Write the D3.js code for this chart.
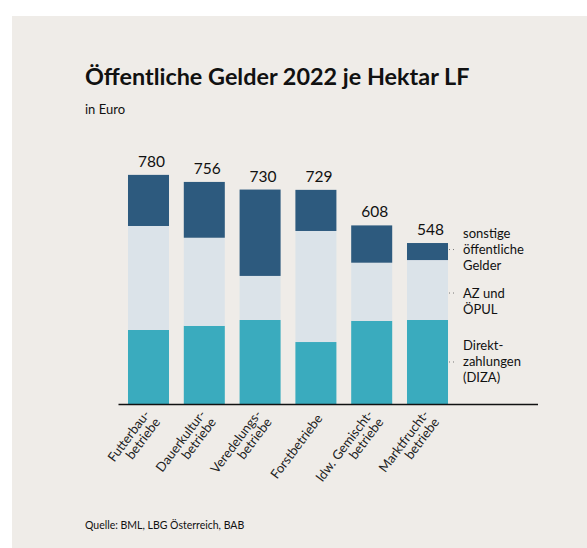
<!DOCTYPE html>
<html>
<head>
<meta charset="utf-8">
<script src="https://cdn.jsdelivr.net/npm/d3@7"></script>
<style>
  body { margin: 0; background: #ffffff; }
  svg { display: block; font-family: Lato, "Noto Sans", sans-serif; }
</style>
</head>
<body>
<div id="chart"></div>
<script>
// ----- ----- ----- ----- ----- ----- ----- ----- -----
// DATA
var categories = [
    ["Futterbau-", "betriebe"],
    ["Dauerkultur-", "betriebe"],
    ["Veredelungs-", "betriebe"],
    ["Forstbetriebe"],
    ["ldw. Gemischt-", "betriebe"],
    ["Marktfrucht-", "betriebe"]
];
var diza = [252, 266, 286, 211, 283, 286];
var azOepul = [354, 300, 150, 378, 198, 204];
var sonstige = [174, 190, 294, 140, 127, 58];
var totals = [780, 756, 730, 729, 608, 548];

var seriesNames = [
    ["Direkt-", "zahlungen", "(DIZA)"],
    ["AZ und", "ÖPUL"],
    ["sonstige", "öffentliche", "Gelder"]
];
var seriesColors = ["#3aabbe", "#dbe3e9", "#2d5a7e"];

// ----- ----- ----- ----- ----- ----- ----- ----- -----
// FIGURE
const size = { width: 587, height: 548 };
const baseline = 404;

var svg = d3.select("#chart")
    .append("svg")
    .attr("width", size.width)
    .attr("height", size.height);

// panel background
svg.append("rect")
    .attr("x", 12)
    .attr("y", 16)
    .attr("width", 575)
    .attr("height", size.height - 16)
    .attr("fill", "#efece8");

// titles
svg.append("text")
    .attr("x", 85)
    .attr("y", 85)
    .attr("font-size", 23.4)
    .attr("font-weight", "bold")
    .attr("fill", "#111")
    .text("Öffentliche Gelder 2022 je Hektar LF");

svg.append("text")
    .attr("x", 85)
    .attr("y", 114)
    .attr("font-size", 13)
    .attr("fill", "#111")
    .text("in Euro");

svg.append("text")
    .attr("x", 85)
    .attr("y", 529)
    .attr("font-size", 10.5)
    .attr("fill", "#111")
    .text("Quelle: BML, LBG Österreich, BAB");

// scales
var idx = d3.range(categories.length);
var x_scale = d3.scaleBand()
    .domain(idx)
    .range([120.6, 455.4])
    .paddingInner(0.265)
    .paddingOuter(0.1325);

var y_scale = d3.scaleLinear()
    .domain([0, 800])
    .range([baseline, 169]);

// stacked data
var rows = idx.map(function (i) {
    return { i: i, diza: diza[i], az: azOepul[i], sonst: sonstige[i] };
});
var stack = d3.stack().keys(["diza", "az", "sonst"])(rows);

svg.append("g")
    .selectAll("g")
    .data(stack)
    .join("g")
    .attr("fill", function (d, k) { return seriesColors[k] })
    .selectAll("rect")
    .data(function (d) { return d })
    .join("rect")
    .attr("x", function (d) { return x_scale(d.data.i) })
    .attr("y", function (d) { return y_scale(d[1]) })
    .attr("width", x_scale.bandwidth())
    .attr("height", function (d) { return y_scale(d[0]) - y_scale(d[1]) });

// total labels
svg.append("g")
    .selectAll("text")
    .data(idx)
    .join("text")
    .attr("x", function (i) { return x_scale(i) + x_scale.bandwidth() / 2 + 3 })
    .attr("y", function (i) { return y_scale(totals[i]) - 8 })
    .attr("text-anchor", "middle")
    .attr("font-size", 15.5)
    .attr("fill", "#111")
    .text(function (i) { return totals[i] });

// x axis
var x_axis = d3.axisBottom(x_scale).tickSize(0).tickFormat("");
var gx = svg.append("g")
    .attr("transform", "translate(0," + baseline + ")")
    .call(x_axis);
gx.select(".domain").remove();
svg.append("line")
    .attr("x1", 118.5)
    .attr("x2", 538)
    .attr("y1", baseline + 0.5)
    .attr("y2", baseline + 0.5)
    .attr("stroke", "#111")
    .attr("stroke-width", 1.6);

// rotated category labels
var lineH = 13;
var catLabels = svg.append("g")
    .selectAll("text")
    .data(idx)
    .join("text")
    .attr("transform", function (i) {
        return "translate(" + (x_scale(i) + x_scale.bandwidth() / 2 + 4) + "," + (baseline + 12) + ") rotate(-53)";
    })
    .attr("text-anchor", "end")
    .attr("font-size", 13)
    .attr("fill", "#222");
catLabels.each(function (i) {
    var lines = categories[i];
    var t = d3.select(this);
    lines.forEach(function (s, j) {
        t.append("tspan")
            .attr("x", 0)
            .attr("y", (j - (lines.length - 1) / 2) * lineH + 4)
            .text(s);
    });
});

// legend beside last bar
var last = idx.length - 1;
var legendX = x_scale(last) + x_scale.bandwidth();
var legend = svg.append("g")
    .selectAll("g")
    .data(stack)
    .join("g")
    .attr("transform", function (d, k) {
        var p = d[last];
        var cy = (y_scale(p[0]) + y_scale(p[1])) / 2;
        if (k === 2) cy -= 2;
        if (k === 1) cy += 3;
        return "translate(" + legendX + "," + cy + ")";
    });
legend.append("line")
    .attr("x1", 1)
    .attr("x2", 7)
    .attr("stroke", "#777")
    .attr("stroke-width", 1)
    .attr("stroke-dasharray", "1,3");
legend.append("text")
    .attr("font-size", 13)
    .attr("fill", "#111")
    .each(function (d, k) {
        var lines = seriesNames[k];
        var t = d3.select(this);
        var mid = lines.length === 2 ? 0 : 1;
        lines.forEach(function (s, j) {
            t.append("tspan")
                .attr("x", 15)
                .attr("y", (j - mid) * 16 + 4.5)
                .text(s);
        });
    });
</script>
</body>
</html>
